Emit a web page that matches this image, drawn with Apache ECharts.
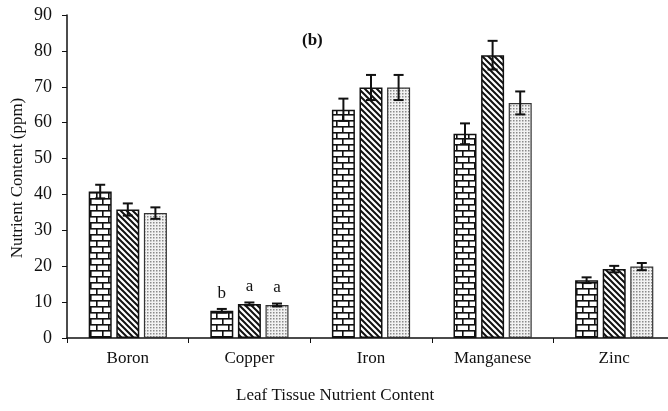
<!DOCTYPE html>
<html>
<head>
<meta charset="utf-8">
<script src="https://cdn.jsdelivr.net/npm/echarts@6/dist/echarts.min.js"></script>
<style>
  html, body { margin: 0; padding: 0; background: #fff; overflow: hidden; }
  #chart { width: 668px; height: 411px; }
</style>
</head>
<body>
<div id="chart"></div>
<script>
// 类别与数值
var categories = ['Boron', 'Copper', 'Iron', 'Manganese', 'Zinc'];
var seriesA = [40.8, 7.6, 63.6, 56.9, 16.1];
var seriesB = [35.8, 9.5, 69.8, 78.8, 19.2];
var seriesC = [34.8, 9.2, 69.8, 65.5, 19.9];
var errA = [1.9, 0.5, 3.1, 2.9, 0.8];
var errB = [1.7, 0.4, 3.5, 4.0, 0.9];
var errC = [1.6, 0.4, 3.5, 3.2, 1.0];
var lettersA = ['', 'b', '', '', ''];
var lettersB = ['', 'a', '', '', ''];
var lettersC = ['', 'a', '', '', ''];
var yTicks = [0, 10, 20, 30, 40, 50, 60, 70, 80, 90];

var serif = '"Liberation Serif", "Times New Roman", serif';
var barW = 23;
var barGapPx = 4.6;

// 填充图案
function brickPattern() {
  var c = document.createElement('canvas');
  c.width = 12; c.height = 12;
  var ctx = c.getContext('2d');
  ctx.fillStyle = '#fff';
  ctx.fillRect(0, 0, 12, 12);
  ctx.fillStyle = '#111';
  ctx.fillRect(0, 0, 12, 1.6);
  ctx.fillRect(0, 6, 12, 1.6);
  ctx.fillRect(0, 0, 1.6, 6);
  ctx.fillRect(6, 6, 1.6, 6);
  return c;
}
function hatchPattern() {
  var c = document.createElement('canvas');
  c.width = 6; c.height = 6;
  var ctx = c.getContext('2d');
  ctx.fillStyle = '#fff';
  ctx.fillRect(0, 0, 6, 6);
  ctx.strokeStyle = '#111';
  ctx.lineWidth = 2;
  ctx.beginPath();
  ctx.moveTo(-1, -1); ctx.lineTo(7, 7);
  ctx.moveTo(-4, 2); ctx.lineTo(4, 10);
  ctx.moveTo(2, -4); ctx.lineTo(10, 4);
  ctx.stroke();
  return c;
}
function dotPattern() {
  var c = document.createElement('canvas');
  c.width = 3; c.height = 3;
  var ctx = c.getContext('2d');
  ctx.fillStyle = '#f2f2f2';
  ctx.fillRect(0, 0, 3, 3);
  ctx.fillStyle = '#8a8a8a';
  ctx.fillRect(0, 0, 1.5, 1.5);
  return c;
}

function barData(vals, letters) {
  return vals.map(function (v, i) {
    var item = { value: v };
    if (letters[i]) {
      item.label = { show: true, formatter: letters[i] };
    }
    return item;
  });
}

function errData(vals, errs) {
  return vals.map(function (v, i) { return [i, v, errs[i]]; });
}

function errSeries(vals, errs, idx) {
  return {
    type: 'custom',
    z: 10,
    silent: true,
    data: errData(vals, errs),
    renderItem: function (params, api) {
      var x = api.value(0), v = api.value(1), e = api.value(2);
      var hi = api.coord([x, v + e]);
      var lo = api.coord([x, v - e]);
      var cx = hi[0] + (idx - 1) * (barW + barGapPx);
      var cap = 5;
      var st = { stroke: '#111', lineWidth: 2 };
      return {
        type: 'group',
        children: [
          { type: 'line', shape: { x1: cx, y1: hi[1], x2: cx, y2: lo[1] }, style: st },
          { type: 'line', shape: { x1: cx - cap, y1: hi[1], x2: cx + cap, y2: hi[1] }, style: st },
          { type: 'line', shape: { x1: cx - cap, y1: lo[1], x2: cx + cap, y2: lo[1] }, style: st }
        ]
      };
    }
  };
}

var labelStyle = {
  position: 'top',
  distance: 9,
  color: '#111',
  fontFamily: serif,
  fontSize: 17
};

var chart = echarts.init(document.getElementById('chart'));
var option = {
  animation: false,
  backgroundColor: '#fff',
  title: {
    text: '(b)',
    left: 297,
    top: 27,
    textStyle: { fontFamily: serif, fontSize: 17, fontWeight: 'bold', color: '#111' }
  },
  grid: { left: 67, top: 15, width: 608, bottom: 73, outerBoundsMode: 'none', containLabel: false },
  graphic: [
    {
      type: 'text',
      left: 236,
      top: 387,
      style: { text: 'Leaf Tissue Nutrient Content', font: '17px ' + serif, fill: '#111' }
    },
    {
      type: 'text',
      x: 18,
      y: 178,
      rotation: Math.PI / 2,
      style: {
        text: 'Nutrient Content (ppm)', font: '17px ' + serif, fill: '#111',
        align: 'center', verticalAlign: 'middle'
      }
    }
  ],
  xAxis: {
    type: 'category',
    data: categories,
    axisLine: { lineStyle: { color: '#111', width: 1.5 } },
    axisTick: { show: true, length: 5, lineStyle: { color: '#111' } },
    axisLabel: { color: '#111', fontFamily: serif, fontSize: 17, margin: 12 }
  },
  yAxis: {
    type: 'value',
    min: 0,
    max: 90,
    interval: 10,
    axisLine: { show: true, lineStyle: { color: '#111', width: 1.5 } },
    axisTick: { show: true, length: 5, lineStyle: { color: '#111' } },
    splitLine: { show: false },
    axisLabel: {
      color: '#111', fontFamily: serif, fontSize: 18, margin: 15,
      formatter: function (v) { return yTicks.indexOf(v) >= 0 ? String(v) : ''; }
    }
  },
  series: [
    {
      type: 'bar', barWidth: barW, barGap: '20%',
      itemStyle: { color: { image: brickPattern(), repeat: 'repeat' }, borderColor: '#111', borderWidth: 1.5 },
      label: labelStyle,
      data: barData(seriesA, lettersA)
    },
    {
      type: 'bar', barWidth: barW, barGap: '20%',
      itemStyle: { color: { image: hatchPattern(), repeat: 'repeat' }, borderColor: '#111', borderWidth: 1.5 },
      label: labelStyle,
      data: barData(seriesB, lettersB)
    },
    {
      type: 'bar', barWidth: barW, barGap: '20%',
      itemStyle: { color: { image: dotPattern(), repeat: 'repeat' }, borderColor: '#333', borderWidth: 1.2 },
      label: labelStyle,
      data: barData(seriesC, lettersC)
    },
    errSeries(seriesA, errA, 0),
    errSeries(seriesB, errB, 1),
    errSeries(seriesC, errC, 2)
  ]
};
chart.setOption(option);
</script>
</body>
</html>
